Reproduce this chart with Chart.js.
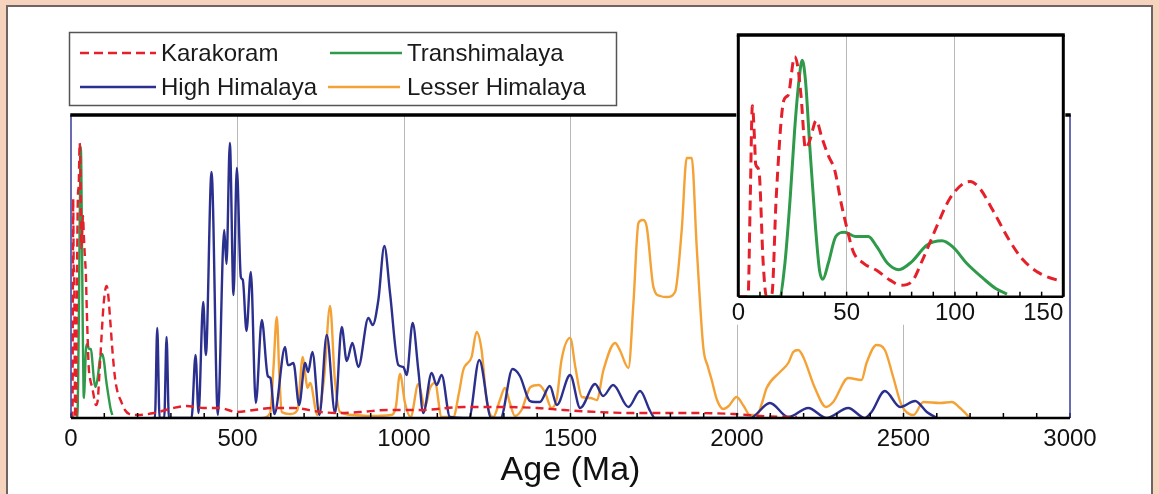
<!DOCTYPE html>
<html>
<head>
<meta charset="utf-8">
<script src="https://cdn.jsdelivr.net/npm/chart.js@4.4.0/dist/chart.umd.min.js"></script>
<style>
  html, body { margin: 0; padding: 0; background: #f5d3bd; }
  #wrap { position: relative; width: 1159px; height: 494px; overflow: hidden; background: #f5d3bd; }
  #panel { position: absolute; left: 6px; top: 5px; width: 1147px; height: 520px; box-sizing: border-box;
           background: #fff; border: 2px solid #6e6461; }
  #main { position: absolute; left: 0; top: 0; }
  #inset { position: absolute; left: 720px; top: 25px; }
</style>
</head>
<body>
<div id="wrap">
  <div id="panel"></div>
  <canvas id="main" width="1159" height="494"></canvas>
  <canvas id="inset" width="360" height="310"></canvas>
</div>
<script>
// Karakoram (dashed red)
const karAge = [0, 4.5, 5.5, 6.5, 7.5, 8, 9.5, 11.5, 13, 15.5, 17.5, 21, 23, 26, 27.5, 29, 31, 33, 36, 38.5,
  41.5, 44.5, 47.5, 50, 53, 58, 64, 70, 75, 80, 85, 91.5, 97.5, 104, 107, 111.5, 117.5, 125, 131.5, 139,
  150, 162, 175, 197, 250, 307, 347, 400, 447, 497, 550, 607, 668, 750, 808, 870, 950, 1050, 1180, 1300,
  1400, 1480, 1580, 1680, 1850, 1990, 2070, 2180];
const karVal = [0, 0, 110, 219, 180, 152, 145, 38, 0, 3, 114, 225, 231, 275, 263, 229, 170, 179, 202, 183,
  162, 145, 107, 80, 52, 38, 30, 19, 13, 17, 42, 80, 112, 130, 132, 124, 99, 65, 42, 27,
  17, 8, 4, 3, 5, 10, 12, 10, 10, 6, 8, 10, 10, 6, 5, 6, 8, 8, 11, 11,
  10, 8, 6, 5, 5, 4, 2, 1];

// Transhimalaya (green)
const traAge = [0, 19, 21.5, 24, 26, 28, 29.5, 31, 33, 35.5, 37.5, 39, 41.5, 45, 49, 54, 60, 64, 69, 74,
  80, 87, 94, 99, 105.5, 113, 119, 124];
const traVal = [0, 0, 38, 115, 191, 248, 271, 248, 172, 84, 30, 20, 38, 69, 74, 69, 69, 57, 38, 31,
  40, 59, 64, 57, 38, 21, 9, 3];

// High Himalaya (blue)
const hhAge = [245, 252, 259, 266, 280, 287, 294, 362, 374, 383, 397, 405, 422, 441, 460, 467, 477, 488, 498, 510,
  516, 527, 540, 555, 573, 591, 599, 611, 643, 651, 655, 668, 685, 703, 712, 725, 746, 768, 793, 813,
  828, 845, 863, 893, 906, 923, 941, 958, 983, 998, 1008, 1026, 1043, 1058, 1083, 1098, 1113, 1138, 1195, 1226,
  1262, 1290, 1326, 1348, 1378, 1393, 1408, 1438, 1459, 1499, 1529, 1574, 1598, 1628, 1674, 1709, 1739, 1754, 2039, 2099,
  2154, 2214, 2269, 2334, 2384, 2404, 2444, 2490, 2535, 2570, 2600];
const hhVal = [0, 0, 90, 0, 0, 81, 0, 0, 63, 5, 116, 63, 246, 3, 188, 154, 275, 123, 250, 141,
  138, 87, 146, 15, 98, 42, 40, 4, 71, 53, 53, 55, 13, 55, 46, 66, 3, 83, 5, 91,
  57, 75, 51, 100, 93, 118, 172, 125, 53, 51, 43, 95, 48, 5, 45, 33, 43, 1, 0, 58,
  0, 0, 49, 42, 17, 16, 16, 32, 13, 43, 10, 34, 22, 33, 11, 27, 7, 0, 0, 15,
  1, 10, 0, 10, 0, 6, 27, 11, 17, 6, 0];

// Lesser Himalaya (orange)
const lhAge = [575, 598, 608, 618, 626, 633, 660, 680, 696, 703, 710, 718, 740, 760, 778, 792, 808, 850, 900, 960,
  975, 988, 1003, 1020, 1043, 1063, 1078, 1093, 1113, 1148, 1165, 1178, 1203, 1218, 1233, 1248, 1268, 1288, 1303, 1318,
  1333, 1353, 1380, 1405, 1423, 1443, 1459, 1473, 1499, 1515, 1534, 1560, 1579, 1599, 1634, 1648, 1674, 1689, 1704, 1717,
  1729, 1749, 1769, 1789, 1814, 1834, 1849, 1864, 1879, 1899, 1912, 1924, 1940, 1959, 1975, 1999, 2020, 2039, 2060, 2075,
  2089, 2129, 2154, 2169, 2184, 2199, 2234, 2267, 2289, 2334, 2374, 2389, 2419, 2444, 2469, 2494, 2530, 2560, 2610, 2645,
  2670, 2700];
const lhVal = [0, 5, 50, 101, 40, 6, 4, 8, 61, 45, 30, 35, 3, 40, 112, 40, 6, 3, 2, 3,
  10, 44, 15, 1, 34, 11, 30, 35, 1, 1, 25, 48, 61, 86, 68, 18, 1, 18, 30, 15,
  2, 8, 31, 33, 26, 10, 20, 58, 80, 50, 21, 20, 18, 48, 75, 68, 50, 115, 195, 198,
  191, 131, 122, 121, 126, 188, 260, 260, 171, 70, 52, 38, 18, 9, 12, 21, 12, 3, 3, 15,
  30, 46, 55, 66, 68, 61, 30, 11, 16, 40, 38, 55, 73, 68, 41, 13, 3, 16, 15, 16,
  10, 0];

const mainTicks = [0, 500, 1000, 1500, 2000, 2500, 3000];
const insetTicks = [0, 50, 100, 150];

const RED = '#e5202b', GREEN = '#2f9a4a', NAVY = '#2b2f8e', ORANGE = '#f4a236';
const FONT = "'Liberation Sans', Arial, sans-serif";
Chart.defaults.font.family = FONT;

const pts = (xs, ys) => xs.map((x, i) => ({ x: x, y: ys[i] }));

function makeSets(width, dash) {
  return [
    { label: 'Karakoram', data: pts(karAge, karVal), borderColor: RED, borderWidth: width, borderDash: dash, order: 1 },
    { label: 'Transhimalaya', data: pts(traAge, traVal), borderColor: GREEN, borderWidth: width, order: 2 },
    { label: 'High Himalaya', data: pts(hhAge, hhVal), borderColor: NAVY, borderWidth: width, order: 3 },
    { label: 'Lesser Himalaya', data: pts(lhAge, lhVal), borderColor: ORANGE, borderWidth: width, order: 4 }
  ];
}

// frame + inward tick marks, drawn over the curves
const framePlugin = {
  id: 'frame',
  beforeDraw(chart, args, o) {
    if (!o.white) return;
    const { ctx, chartArea: a } = chart;
    ctx.save();
    ctx.fillStyle = '#fff';
    ctx.fillRect(a.left - 2, a.top - 2, a.right - a.left + 4, a.bottom - a.top + o.white);
    ctx.restore();
  },
  afterDatasetsDraw(chart, args, o) {
    const { ctx, chartArea: a, scales: { x } } = chart;
    ctx.save();
    ctx.strokeStyle = '#000';
    ctx.lineWidth = 1.5;
    x.ticks.forEach(t => {
      const px = x.getPixelForValue(t.value);
      ctx.beginPath();
      ctx.moveTo(px, a.bottom);
      ctx.lineTo(px, a.bottom - o.tick);
      ctx.stroke();
    });
    ctx.lineWidth = o.sideW;
    ctx.strokeStyle = o.side;
    ctx.beginPath();
    ctx.moveTo(a.left, a.top); ctx.lineTo(a.left, a.bottom);
    ctx.moveTo(a.right, a.top); ctx.lineTo(a.right, a.bottom);
    ctx.stroke();
    ctx.strokeStyle = '#000';
    ctx.lineWidth = o.topW;
    ctx.beginPath();
    ctx.moveTo(a.left - o.sideW / 2, a.top); ctx.lineTo(a.right + o.sideW / 2, a.top);
    ctx.stroke();
    ctx.lineWidth = o.botW;
    ctx.beginPath();
    ctx.moveTo(a.left, a.bottom); ctx.lineTo(a.right, a.bottom);
    ctx.stroke();
    if (o.labels) {
      ctx.fillStyle = '#111';
      ctx.font = o.labelFont;
      ctx.textBaseline = 'middle';
      o.labels.forEach((v, i) => {
        ctx.textAlign = i === o.labels.length - 1 ? 'right' : 'center';
        ctx.fillText(String(v), x.getPixelForValue(v), a.bottom + o.labelDy);
      });
    }
    ctx.restore();
  }
};

const legendPlugin = {
  id: 'boxLegend',
  afterDraw(chart) {
    const { ctx } = chart;
    const sets = chart.data.datasets;
    const slots = [
      { x1: 80, x2: 156, tx: 161, y: 53 },
      { x1: 330, x2: 402, tx: 407, y: 53 },
      { x1: 80, x2: 156, tx: 161, y: 87 },
      { x1: 328, x2: 400, tx: 407, y: 87 }
    ];
    ctx.save();
    ctx.fillStyle = '#fff';
    ctx.fillRect(69, 32, 548, 73);
    ctx.strokeStyle = '#555';
    ctx.lineWidth = 1.5;
    ctx.strokeRect(69.5, 32.5, 547, 73);
    ctx.font = '24px ' + FONT;
    ctx.textBaseline = 'middle';
    ctx.textAlign = 'left';
    sets.forEach((d, i) => {
      const s = slots[i];
      ctx.strokeStyle = d.borderColor;
      ctx.lineWidth = 2.5;
      ctx.setLineDash(d.borderDash ? [9, 5] : []);
      ctx.beginPath();
      ctx.moveTo(s.x1, s.y); ctx.lineTo(s.x2, s.y);
      ctx.stroke();
      ctx.setLineDash([]);
      ctx.fillStyle = '#1a1a1a';
      ctx.fillText(d.label, s.tx, s.y + 1);
    });
    ctx.restore();
  }
};

new Chart(document.getElementById('main'), {
  type: 'line',
  data: { datasets: makeSets(2.4, [8, 5]) },
  options: {
    responsive: false,
    animation: false,
    layout: { padding: { left: 71, right: 89, top: 115, bottom: 0 } },
    elements: { point: { radius: 0 }, line: { cubicInterpolationMode: 'monotone', fill: false } },
    plugins: {
      legend: { display: false },
      tooltip: { enabled: false },
      frame: { tick: 5, side: '#3a3d98', sideW: 1.5, topW: 3.5, botW: 2.5 }
    },
    scales: {
      x: {
        type: 'linear', min: 0, max: 3000,
        afterFit: s => { s.height = 76; },
        afterBuildTicks: s => { s.ticks = Array.from({ length: 31 }, (_, i) => ({ value: i * 100 })); },
        ticks: {
          autoSkip: false, maxRotation: 0, padding: 7, color: '#111', font: { size: 24 },
          callback: v => mainTicks.includes(v) ? String(v) : ''
        },
        grid: {
          drawTicks: false, lineWidth: 1,
          color: c => (c.tick && mainTicks.includes(c.tick.value) && c.tick.value > 0 && c.tick.value < 3000) ? '#b8b8b8' : 'rgba(0,0,0,0)'
        },
        border: { display: false },
        title: { display: true, text: 'Age (Ma)', color: '#111', font: { size: 34 }, padding: { top: 0, bottom: 3 } }
      },
      y: { display: false, min: 0, max: 303 }
    }
  },
  plugins: [framePlugin, legendPlugin]
});

new Chart(document.getElementById('inset'), {
  type: 'line',
  data: { datasets: makeSets(3, [10, 6]).slice(0, 2) },
  options: {
    responsive: false,
    animation: false,
    layout: { padding: { left: 18.3, right: 16.7, top: 10, bottom: 0 } },
    elements: { point: { radius: 0 }, line: { cubicInterpolationMode: 'monotone', fill: false } },
    plugins: {
      legend: { display: false },
      tooltip: { enabled: false },
      frame: {
        white: 30, tick: 5, side: '#000', sideW: 3, topW: 3.5, botW: 2.5,
        labels: insetTicks, labelDy: 17, labelFont: '24px ' + FONT
      }
    },
    scales: {
      x: {
        type: 'linear', min: 0, max: 150,
        afterFit: s => { s.height = 38.3; },
        afterBuildTicks: s => { s.ticks = Array.from({ length: 16 }, (_, i) => ({ value: i * 10 })); },
        ticks: { display: false },
        grid: {
          drawTicks: false, lineWidth: 1,
          color: c => (c.tick && (c.tick.value === 50 || c.tick.value === 100)) ? '#b8b8b8' : 'rgba(0,0,0,0)'
        },
        border: { display: false }
      },
      y: { display: false, min: 0, max: 300 }
    }
  },
  plugins: [framePlugin]
});
</script>
</body>
</html>
